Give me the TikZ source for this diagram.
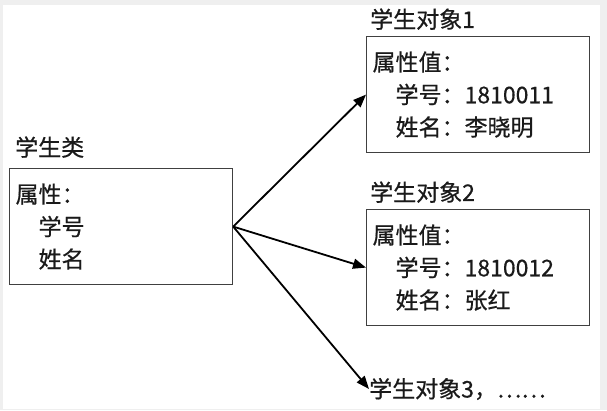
\documentclass[tikz,border=0pt]{standalone}
\usepackage{fontspec}
\setmainfont{Noto Sans CJK SC}[FakeBold=0.5]
\usetikzlibrary{arrows.meta, positioning}
\definecolor{framegray}{HTML}{EFEFEF}
\definecolor{boxline}{HTML}{404040}
\definecolor{inktext}{HTML}{1A1A1A}
\tikzset{
  objbox/.style={
    rectangle, draw=boxline, line width=1.2pt, anchor=north west,
    minimum width=223pt, minimum height=116pt, text width=211pt,
    inner sep=6pt, align=left, text=inktext,
    font=\fontsize{23}{32.5}\selectfont
  },
  title/.style={inner sep=0pt, text=inktext, font=\fontsize{23}{27}\selectfont},
  link/.style={-{Triangle[length=13pt,width=10pt]}, line width=1.8pt}
}
\begin{document}
\begin{tikzpicture}[x=1pt,y=-1pt]
  % frame
  \fill[framegray] (0,0) rectangle (607,410);
  \fill[white] (3,5) rectangle (600,409);
  % class
  \node[objbox] (cls) at (9,168) {属性：\\\hspace*{1em}学号\\\hspace*{1em}姓名};
  \node[title, above right=10pt and 6pt of cls.north west, anchor=south west] (clsname) {学生类};
  % objects
  \node[objbox] (obj1) at (366,36) {属性值：\\\hspace*{1em}学号：1810011\\\hspace*{1em}姓名：李晓明};
  \node[title, above right=6pt and 4pt of obj1.north west, anchor=south west] (obj1name) {学生对象1};
  \node[objbox] (obj2) at (366,209) {属性值：\\\hspace*{1em}学号：1810012\\\hspace*{1em}姓名：张红};
  \node[title, above right=6pt and 4pt of obj2.north west, anchor=south west] (obj2name) {学生对象2};
  \node[title, anchor=west] (obj3) at (369,389) {学生对象3，……};
  % links
  \draw[link] (cls.east) -- (obj1.west);
  \draw[link] (cls.east) -- (obj2.west);
  \draw[link] (cls.east) -- (obj3.west);
\end{tikzpicture}
\end{document}
